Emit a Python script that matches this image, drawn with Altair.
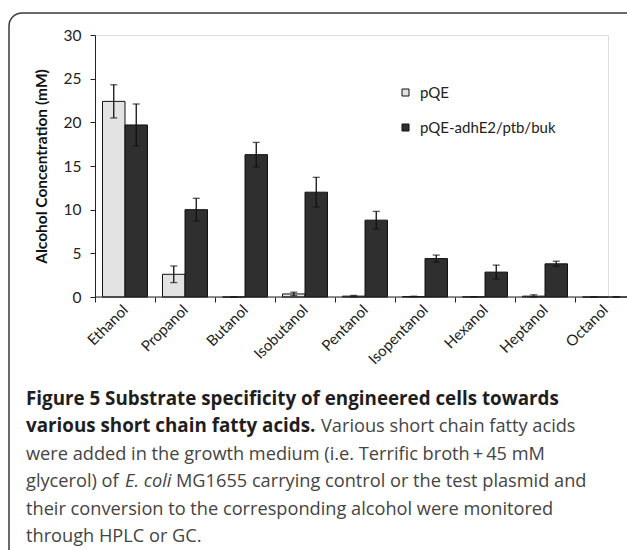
import altair as alt
import pandas as pd

# Alcohol titres per fatty-acid substrate (mM), mean and error
alcohols = ["Ethanol", "Propanol", "Butanol", "Isobutanol", "Pentanol",
            "Isopentanol", "Hexanol", "Heptanol", "Octanol"]
control_mean = [22.4, 2.6, 0.0, 0.35, 0.1, 0.05, 0.02, 0.1, 0.0]
control_err = [1.9, 0.95, 0.0, 0.2, 0.08, 0.04, 0.0, 0.15, 0.0]
engineered_mean = [19.7, 10.0, 16.3, 12.0, 8.8, 4.4, 2.85, 3.8, 0.0]
engineered_err = [2.4, 1.3, 1.4, 1.7, 1.0, 0.4, 0.8, 0.3, 0.0]
series = ["pQE", "pQE-adhE2/ptb/buk"]
y_ticks = [0, 5, 10, 15, 20, 25, 30]

rows = []
for i, name in enumerate(alcohols):
    for s, m, e in ((series[0], control_mean, control_err),
                    (series[1], engineered_mean, engineered_err)):
        rows.append({"alcohol": name, "plasmid": s, "conc": m[i],
                     "lo": max(m[i] - e[i], 0), "hi": m[i] + e[i]})
df = pd.DataFrame(rows)

W, H = 513, 262
PAD_L, PAD_T = 95, 35
AXIS_FONT = "Lato"
CAP_FONT = "Open Sans"

x_enc = alt.X("alcohol:N", sort=alcohols,
              scale=alt.Scale(domain=alcohols, range=[0, 540],
                              paddingInner=0, paddingOuter=0),
              axis=alt.Axis(title=None, domain=False, tickBand="extent",
                            tickSize=5, tickColor="#222", tickWidth=1,
                            labelAngle=-45, labelAlign="right",
                            labelBaseline="middle", labelPadding=5,
                            labelFont=AXIS_FONT, labelFontSize=15,
                            labelColor="#222"))
xo_enc = alt.XOffset("plasmid:N", sort=series,
                     scale=alt.Scale(domain=series, paddingOuter=0.333,
                                     paddingInner=0))
y_scale = alt.Scale(domain=[0, 30], nice=False)

base = alt.Chart(df)

bars = base.mark_bar(stroke="#111", strokeWidth=1).encode(
    x=x_enc,
    xOffset=xo_enc,
    y=alt.Y("conc:Q", scale=y_scale,
            axis=alt.Axis(title="Alcohol Concentration (mM)", values=y_ticks,
                          grid=False, domainColor="#222", tickColor="#222",
                          tickSize=5, labelPadding=9, labelFont=AXIS_FONT,
                          labelFontSize=15.5, labelColor="#222",
                          titleFont=AXIS_FONT, titleFontSize=15.5,
                          titleFontWeight="bold", titleColor="#111",
                          titlePadding=14)),
    color=alt.Color("plasmid:N", sort=series,
                    scale=alt.Scale(domain=series,
                                    range=["#e3e3e3", "#2f2f2f"]),
                    legend=alt.Legend(title=None, orient="none",
                                      legendX=303, legendY=50,
                                      symbolType="square", symbolSize=49,
                                      symbolStrokeColor="#111",
                                      symbolStrokeWidth=1,
                                      labelFont=AXIS_FONT, labelFontSize=15,
                                      labelColor="#222", labelOffset=7,
                                      rowPadding=19)),
)

err_line = base.mark_rule(color="#111", strokeWidth=1.3).encode(
    x=x_enc, xOffset=xo_enc,
    y=alt.Y("lo:Q", scale=y_scale), y2="hi:Q")
err_cap_hi = base.mark_tick(color="#111", thickness=1.3, size=7).encode(
    x=x_enc, xOffset=xo_enc, y=alt.Y("hi:Q", scale=y_scale))
err_cap_lo = base.mark_tick(color="#111", thickness=1.3, size=7).encode(
    x=x_enc, xOffset=xo_enc, y=alt.Y("lo:Q", scale=y_scale))

# category axis baseline, ending short of the last band
baseline = alt.Chart(pd.DataFrame({"v": [0]})).mark_rule(
    color="#222", strokeWidth=1).encode(
    x=alt.value(0), x2=alt.value(W), y=alt.Y("v:Q", scale=y_scale))

# panel frame with rounded upper-left corner
frame = alt.Chart(pd.DataFrame({"v": [0]})).mark_rect(
    fill=None, stroke="#3a3a3a", strokeWidth=1.5, cornerRadius=13).encode(
    x=alt.value(9 - PAD_L), x2=alt.value(700),
    y=alt.value(13 - PAD_T), y2=alt.value(700))

# figure caption, one entry per styled run of text (alphabetic baselines)
LINE0, STEP = 405, 27.4
cap_rows = [
    ("Figure 5 Substrate specificity of engineered cells towards", 26, 0, "bold", "normal"),
    ("various short chain fatty acids.", 26, 1, "bold", "normal"),
    ("Various short chain fatty acids", 321, 1, "normal", "normal"),
    ("were added in the growth medium (i.e. Terrific broth\u2009+\u200945 mM", 26, 2, "normal", "normal"),
    ("glycerol) of", 26, 3, "normal", "normal"),
    ("E. coli", 125, 3, "normal", "italic"),
    ("MG1655 carrying control or the test plasmid and", 176, 3, "normal", "normal"),
    ("their conversion to the corresponding alcohol were monitored", 26, 4, "normal", "normal"),
    ("through HPLC or GC.", 26, 5, "normal", "normal"),
]
caption_layers = []
for text, cx, line, weight, style in cap_rows:
    caption_layers.append(
        alt.Chart(pd.DataFrame({"t": [text]})).mark_text(
            align="left", baseline="alphabetic", font=CAP_FONT,
            fontSize=18.8 if weight == "bold" else 18.2,
            fontWeight=weight, fontStyle=style,
            color="#1e1e1e" if weight == "bold" else "#444").encode(
            text="t:N", x=alt.value(cx - PAD_L),
            y=alt.value(LINE0 + STEP * line - PAD_T)))

chart = alt.layer(frame, bars, err_line, err_cap_hi, err_cap_lo, baseline,
                  *caption_layers).properties(
    width=W, height=H,
    autosize=alt.AutoSizeParams(type="none"),
    padding={"left": PAD_L, "top": PAD_T, "right": 627 - PAD_L - W,
             "bottom": 550 - PAD_T - H},
).configure_view(stroke=None).configure(background="white")

chart.save("out.html", embed_options={"renderer": "svg", "actions": False})
